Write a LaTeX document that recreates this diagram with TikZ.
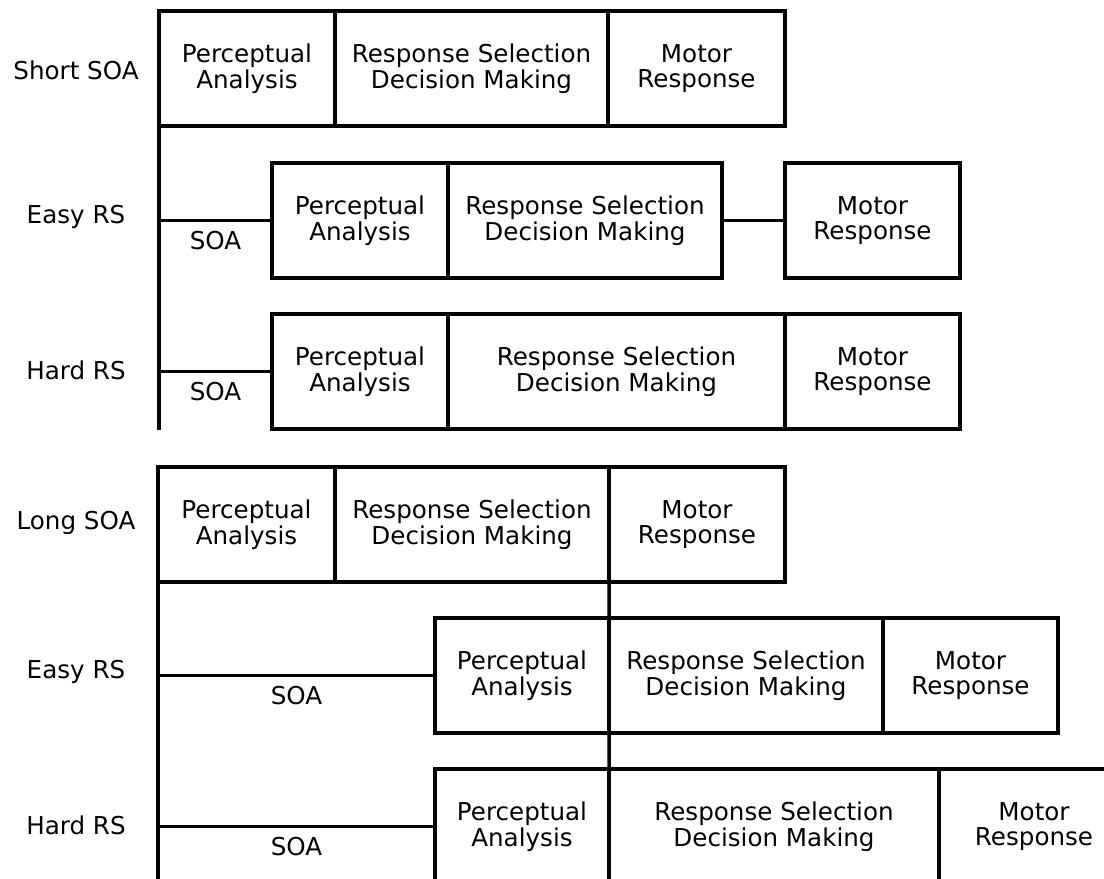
\documentclass[tikz,border=0pt]{standalone}
\usepackage{fontspec}
\setmainfont{DejaVu Sans}
\tikzset{
    stage/.style={draw, rectangle, align=center, inner sep=0pt, outer sep=0pt, minimum height=23mm, anchor=north west},
    wide/.style={minimum width=#1*0.2mm},
    soa/.style={midway, anchor=north, inner sep=0pt, yshift=-1.8mm},
}
\begin{document}
\begin{tikzpicture}[line width=0.7mm, x=0.2mm, y=-0.2mm, font=\fontsize{14}{14.6}\selectfont]
        \useasboundingbox (0, 0) rectangle (1104, 879);
        \clip (0, 0) rectangle (1104, 879);
        \foreach \y/\t/\n in {70/Short SOA/lshort, 217/Easy RS/leasyA, 370/Hard RS/lhardA, 523/Long SOA/llong, 672/Easy RS/leasyB, 825/Hard RS/lhardB}{
            \node (\n) at (76, \y){\t};
        }
        \coordinate (axA) at (159, 11);
        \coordinate (axAend) at (159, 430);
        \draw (axA) -- (axAend);
        \node (sp) at (159, 11)[stage, wide=176]{Perceptual\\Analysis};
        \node (sr) at (sp.north east)[stage, wide=273]{Response Selection\\Decision Making};
        \node (sm) at (sr.north east)[stage, wide=177]{Motor\\Response};
        \node (ep) at (272, 163)[stage, wide=176]{Perceptual\\Analysis};
        \node (er) at (ep.north east)[stage, wide=274]{Response Selection\\Decision Making};
        \node (em) at (785, 163)[stage, wide=175]{Motor\\Response};
        \draw (er.east) -- (em.west);
        \draw (ep.west -| axA) -- (ep.west) node[soa]{SOA};
        \node (hp) at (272, 314)[stage, wide=176]{Perceptual\\Analysis};
        \node (hr) at (hp.north east)[stage, wide=337]{Response Selection\\Decision Making};
        \node (hm) at (hr.north east)[stage, wide=175]{Motor\\Response};
        \draw (hp.west -| axA) -- (hp.west) node[soa]{SOA};
        \coordinate (axB) at (158, 467);
        \coordinate (axBend) at (158, 900);
        \draw (axB) -- (axBend);
        \node (lp) at (158, 467)[stage, wide=177]{Perceptual\\Analysis};
        \node (lr) at (lp.north east)[stage, wide=274]{Response Selection\\Decision Making};
        \node (lm) at (lr.north east)[stage, wide=176]{Motor\\Response};
        \node (ep2) at (435, 618)[stage, wide=174]{Perceptual\\Analysis};
        \node (er2) at (ep2.north east)[stage, wide=274]{Response Selection\\Decision Making};
        \node (em2) at (er2.north east)[stage, wide=175]{Motor\\Response};
        \draw (ep2.west -| axB) -- (ep2.west) node[soa]{SOA};
        \node (hp2) at (435, 769)[stage, wide=174]{Perceptual\\Analysis};
        \node (hr2) at (hp2.north east)[stage, wide=330]{Response Selection\\Decision Making};
        \node (hm2) at (hr2.north east)[stage, wide=190]{Motor\\Response};
        \draw (hp2.west -| axB) -- (hp2.west) node[soa]{SOA};
        \draw (lm.south west) -- (hr2.north west);
    \end{tikzpicture}
\end{document}
